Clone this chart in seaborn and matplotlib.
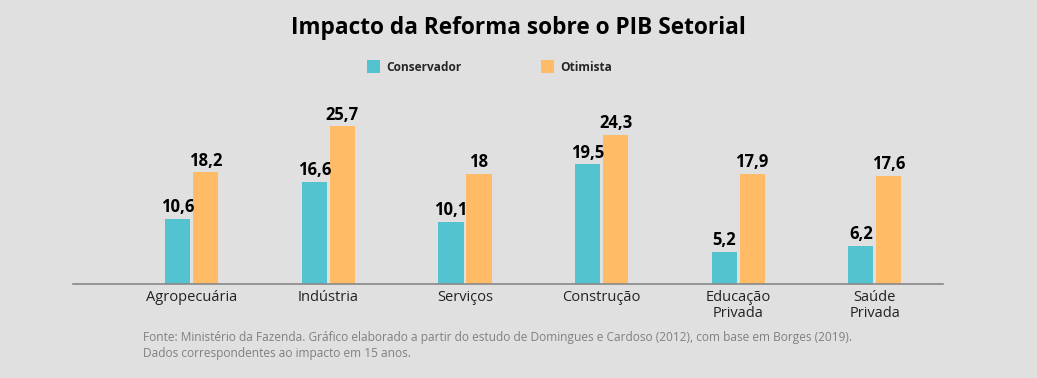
import pandas as pd
import matplotlib.pyplot as plt
import seaborn as sns

setores = ["Agropecuária", "Indústria", "Serviços", "Construção", "Educação\nPrivada", "Saúde\nPrivada"]
conservador = [10.6, 16.6, 10.1, 19.5, 5.2, 6.2]
otimista = [18.2, 25.7, 18.0, 24.3, 17.9, 17.6]
cenarios = ["Conservador", "Otimista"]
cores = ["#52c3cf", "#ffbb66"]

df = pd.DataFrame({
    "setor": setores * 2,
    "cenario": [cenarios[0]] * len(setores) + [cenarios[1]] * len(setores),
    "valor": conservador + otimista,
})

sns.set_style("white")
plt.rcParams["font.family"] = ["Open Sans", "DejaVu Sans"]
bg = "#e0e0e0"

fig = plt.figure(figsize=(10.37, 3.78), dpi=100, facecolor=bg)
ax = fig.add_axes([0.0704, 0.2487, 0.839, 0.487], facecolor=bg)

sns.barplot(data=df, x="setor", y="valor", hue="cenario", palette=cores,
            width=0.41, gap=0.1, ax=ax, legend=False, saturation=1, linewidth=0)

for cont in ax.containers:
    labels = [f"{v:g}".replace(".", ",") for v in cont.datavalues]
    ax.bar_label(cont, labels=labels, padding=2, fontsize=12, fontweight="bold", color="black")

ax.set_xlim(-0.87, 5.5)
ax.set_ylim(0, 30)
ax.set_xlabel("")
ax.set_ylabel("")
ax.set_yticks([])
ax.tick_params(axis="x", length=0, labelsize=10.5, pad=4, colors="#222222")
for s in ["top", "right", "left"]:
    ax.spines[s].set_visible(False)
ax.spines["bottom"].set_color("#888888")
ax.spines["bottom"].set_linewidth(1.2)
for lbl in ax.get_xticklabels():
    lbl.set_linespacing(1.1)

fig.text(0.5, 0.925, "Impacto da Reforma sobre o PIB Setorial", ha="center", va="center",
         fontsize=16.3, fontweight="bold", color="black")

# legenda
for x0, nome, cor in [(0.354, cenarios[0], cores[0]), (0.522, cenarios[1], cores[1])]:
    fig.patches.append(plt.Rectangle((x0, 0.806), 0.0125, 0.034, transform=fig.transFigure,
                                     facecolor=cor, edgecolor="none"))
    fig.text(x0 + 0.018, 0.822, nome, ha="left", va="center", fontsize=8.6, fontweight="bold")

fig.text(0.138, 0.106, "Fonte: Ministério da Fazenda. Gráfico elaborado a partir do estudo de Domingues e Cardoso (2012), com base em Borges (2019).",
         ha="left", va="center", fontsize=8.6, color="#808080")
fig.text(0.138, 0.066, "Dados correspondentes ao impacto em 15 anos.",
         ha="left", va="center", fontsize=8.6, color="#808080")

fig.savefig("out.png", dpi=100, facecolor=bg)
